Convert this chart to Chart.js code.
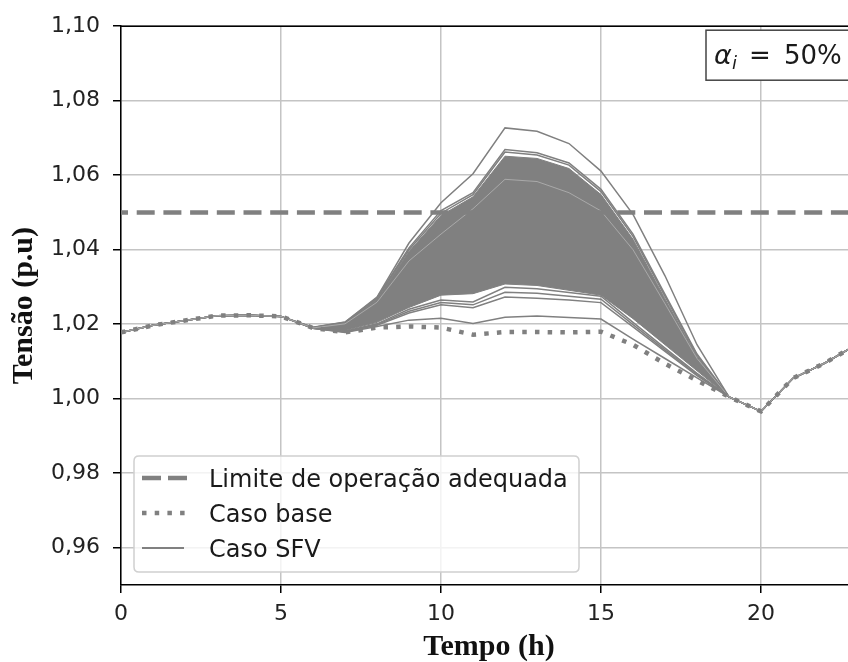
<!DOCTYPE html>
<html><head><meta charset="utf-8">
<script src="https://cdn.jsdelivr.net/npm/chart.js@4.4.1/dist/chart.umd.min.js"></script>
<style>
html,body{margin:0;padding:0;overflow:hidden;background:#fff;width:848px;height:662px}
#wrap{position:absolute;left:0;top:0;width:900px;height:662px}
</style>
</head><body>
<div id="wrap"><canvas id="c" width="900" height="662"></canvas></div>
<script>
// ---- data ----
const hours = [0,1,2,3,4,5,6,7,8,9,10,11,12,13,14,15,16,17,18,19,20,21,22,23];
const xTickValues = [0,5,10,15,20];
const xTickLabels = ['0','5','10','15','20'];
const yTickValues = [0.96,0.98,1.00,1.02,1.04,1.06,1.08,1.10];
const yTickLabels = ['0,96','0,98','1,00','1,02','1,04','1,06','1,08','1,10'];
const legendLabels = ['Limite de operação adequada','Caso base','Caso SFV'];
const limiteX = [0, 23];
const limiteY = [1.05, 1.05];
const base        = [1.0178,1.0197,1.0210,1.0223,1.0224,1.0221,1.0190,1.0178,1.0191,1.0194,1.0191,1.0172,1.0179,1.0179,1.0178,1.0180,1.0145,1.0094,1.0049,1.0005,0.9966,1.0055,1.0096,1.0146];
const sfvMax      = [1.0178,1.0197,1.0210,1.0223,1.0224,1.0221,1.0192,1.0206,1.0273,1.0418,1.0526,1.0604,1.0727,1.0718,1.0685,1.0611,1.0495,1.0330,1.0145,1.0005,0.9966,1.0055,1.0096,1.0146];
const sfvUp1      = [1.0178,1.0197,1.0210,1.0223,1.0224,1.0221,1.0191,1.0205,1.0271,1.0405,1.0505,1.0553,1.0669,1.0660,1.0633,1.0562,1.0442,1.0280,1.0120,1.0005,0.9966,1.0055,1.0096,1.0146];
const sfvUp2      = [1.0178,1.0197,1.0210,1.0223,1.0224,1.0221,1.0191,1.0204,1.0269,1.0400,1.0498,1.0548,1.0662,1.0654,1.0627,1.0556,1.0436,1.0275,1.0117,1.0005,0.9966,1.0055,1.0096,1.0146];
const bandTop     = [1.0178,1.0197,1.0210,1.0223,1.0224,1.0221,1.0190,1.0203,1.0267,1.0395,1.0492,1.0542,1.0651,1.0645,1.0618,1.0548,1.0428,1.0268,1.0113,1.0005,0.9966,1.0055,1.0096,1.0146];
const sfvMid      = [1.0178,1.0197,1.0210,1.0223,1.0224,1.0221,1.0190,1.0201,1.0259,1.0370,1.0442,1.0510,1.0589,1.0583,1.0553,1.0504,1.0400,1.0255,1.0108,1.0005,0.9966,1.0055,1.0096,1.0146];
const bandBottom  = [1.0178,1.0197,1.0210,1.0223,1.0224,1.0221,1.0189,1.0183,1.0205,1.0245,1.0278,1.0282,1.0308,1.0304,1.0291,1.0278,1.0215,1.0145,1.0075,1.0005,0.9966,1.0055,1.0096,1.0146];
const sfvLow1     = [1.0178,1.0197,1.0210,1.0223,1.0224,1.0221,1.0189,1.0181,1.0201,1.0240,1.0265,1.0260,1.0299,1.0295,1.0285,1.0275,1.0205,1.0136,1.0068,1.0005,0.9966,1.0055,1.0096,1.0146];
const sfvLow2     = [1.0178,1.0197,1.0210,1.0223,1.0224,1.0221,1.0189,1.0180,1.0199,1.0235,1.0258,1.0252,1.0286,1.0283,1.0275,1.0267,1.0199,1.0131,1.0065,1.0005,0.9966,1.0055,1.0096,1.0146];
const sfvLow3     = [1.0178,1.0197,1.0210,1.0223,1.0224,1.0221,1.0189,1.0179,1.0197,1.0230,1.0252,1.0244,1.0273,1.0270,1.0265,1.0258,1.0193,1.0127,1.0062,1.0005,0.9966,1.0055,1.0096,1.0146];
const sfvMin      = [1.0178,1.0197,1.0210,1.0223,1.0224,1.0221,1.0189,1.0178,1.0194,1.0211,1.0216,1.0202,1.0219,1.0222,1.0218,1.0214,1.0160,1.0108,1.0056,1.0005,0.9966,1.0055,1.0096,1.0146];

// ---- styling ----
const GRAY = '#808080';
const pts = arr => hours.map((h, i) => ({x: h, y: arr[i]}));
function sfv(arr, extra) {
  return Object.assign({
    label: 'Caso SFV', data: pts(arr), borderColor: GRAY, borderWidth: 1.5,
    pointRadius: 0, tension: 0, fill: false, order: 2
  }, extra || {});
}

const datasets = [
  { label: legendLabels[0], data: limiteX.map((x, i) => ({x, y: limiteY[i]})), borderColor: GRAY,
    borderWidth: 4.5, borderDash: [18, 8.7], borderDashOffset: 11, pointRadius: 0, fill: false, order: 1 },
  { label: legendLabels[1], data: pts(base), borderColor: GRAY, borderWidth: 4.5,
    borderDash: [4.5, 8.2], pointRadius: 0, tension: 0, fill: false, order: 0 },
  sfv(sfvMax),
  sfv(sfvUp1),
  sfv(sfvUp2),
  sfv(bandTop, {fill: 6, backgroundColor: GRAY, borderWidth: 1}),
  sfv(bandBottom, {borderWidth: 1}),
  sfv(sfvMid, {borderColor: '#a9a9a9', borderWidth: 1, order: 1.5}),
  sfv(sfvLow1),
  sfv(sfvLow2),
  sfv(sfvLow3),
  sfv(sfvMin)
];

const overlay = {
  id: 'overlay',
  afterDraw(chart) {
    const {ctx, chartArea: a} = chart;
    ctx.save();
    // top & right frame
    ctx.strokeStyle = '#000'; ctx.lineWidth = 1.5;
    ctx.beginPath(); ctx.moveTo(a.left, a.top); ctx.lineTo(a.right, a.top); ctx.lineTo(a.right, a.bottom); ctx.stroke();

    // legend box
    const lx = a.left + 13, ly = a.bottom - 129, lw = 445, lh = 116, r = 5;
    ctx.beginPath();
    ctx.moveTo(lx + r, ly); ctx.lineTo(lx + lw - r, ly); ctx.quadraticCurveTo(lx + lw, ly, lx + lw, ly + r);
    ctx.lineTo(lx + lw, ly + lh - r); ctx.quadraticCurveTo(lx + lw, ly + lh, lx + lw - r, ly + lh);
    ctx.lineTo(lx + r, ly + lh); ctx.quadraticCurveTo(lx, ly + lh, lx, ly + lh - r);
    ctx.lineTo(lx, ly + r); ctx.quadraticCurveTo(lx, ly, lx + r, ly);
    ctx.closePath();
    ctx.fillStyle = 'rgba(255,255,255,0.8)'; ctx.fill();
    ctx.strokeStyle = '#d0d0d0'; ctx.lineWidth = 1.5; ctx.stroke();

    const rows = [ly + 22, ly + 57, ly + 92];
    const sx0 = lx + 8, sx1 = lx + 54;
    ctx.strokeStyle = GRAY;
    ctx.lineWidth = 4.5; ctx.setLineDash([19, 7]);
    ctx.beginPath(); ctx.moveTo(sx0, rows[0]); ctx.lineTo(sx0 + 45, rows[0]); ctx.stroke();
    ctx.setLineDash([4.5, 8.2]);
    ctx.beginPath(); ctx.moveTo(sx0, rows[1]); ctx.lineTo(sx0 + 45, rows[1]); ctx.stroke();
    ctx.setLineDash([]); ctx.lineWidth = 2;
    ctx.beginPath(); ctx.moveTo(sx0, rows[2]); ctx.lineTo(sx1 - 4, rows[2]); ctx.stroke();

    ctx.fillStyle = '#1a1a1a';
    ctx.font = '24px "DejaVu Sans"';
    ctx.textBaseline = 'alphabetic'; ctx.textAlign = 'left';
    legendLabels.forEach((t, i) => ctx.fillText(t, lx + 75, rows[i] + 8.5));

    // alpha annotation box
    const bx = a.left + 585, by = a.top + 4, bw = 170, bh = 50;
    ctx.fillStyle = '#fff'; ctx.fillRect(bx, by, bw, bh);
    ctx.strokeStyle = '#444'; ctx.lineWidth = 1.5; ctx.strokeRect(bx, by, bw, bh);
    ctx.fillStyle = '#1a1a1a';
    ctx.font = 'italic 27px "DejaVu Sans"';
    ctx.fillText('α', bx + 8, by + 34);
    ctx.font = 'italic 18px "DejaVu Sans"';
    ctx.fillText('i', bx + 26, by + 39);
    ctx.font = '26px "DejaVu Sans"';
    ctx.fillText('=', bx + 43, by + 34);
    ctx.fillText('50%', bx + 78, by + 34);
    ctx.restore();
  }
};

const tickFont = {family: 'DejaVu Sans', size: 22};
new Chart(document.getElementById('c'), {
  type: 'line',
  data: {datasets},
  options: {
    responsive: false, animation: false, devicePixelRatio: 1,
    layout: {padding: {left: 0, right: 43, top: 24, bottom: 0}},
    plugins: {legend: {display: false}, tooltip: {enabled: false}},
    scales: {
      x: {
        type: 'linear', min: 0, max: 23,
        afterBuildTicks: s => { s.ticks = xTickValues.map(v => ({value: v})); },
        afterFit: s => { s.height = 77; },
        ticks: {font: tickFont, color: '#222', padding: 8, maxRotation: 0,
                callback: (v, i) => xTickLabels[i]},
        grid: {color: '#c4c4c4', lineWidth: 1.5, tickLength: 8, tickColor: '#000', tickWidth: 1.5},
        border: {display: true, color: '#000', width: 1.5},
        title: {display: true, text: 'Tempo (h)', color: '#111',
                font: {family: 'Liberation Serif', size: 30, weight: 'bold', lineHeight: 1},
                padding: {top: 0, bottom: 0}}
      },
      y: {
        type: 'linear', min: 0.95, max: 1.10,
        afterBuildTicks: s => { s.ticks = yTickValues.map(v => ({value: v})); },
        afterFit: s => { s.width = 121; },
        ticks: {font: tickFont, color: '#222', padding: 13,
                callback: (v, i) => yTickLabels[i]},
        grid: {color: '#c4c4c4', lineWidth: 1.5, tickLength: 8, tickColor: '#000', tickWidth: 1.5},
        border: {display: true, color: '#000', width: 1.5},
        title: {display: true, text: 'Tensão (p.u)', color: '#111',
                font: {family: 'Liberation Serif', size: 30, weight: 'bold', lineHeight: 1},
                padding: {top: 9, bottom: 0}}
      }
    }
  },
  plugins: [overlay]
});
</script>
</body></html>
